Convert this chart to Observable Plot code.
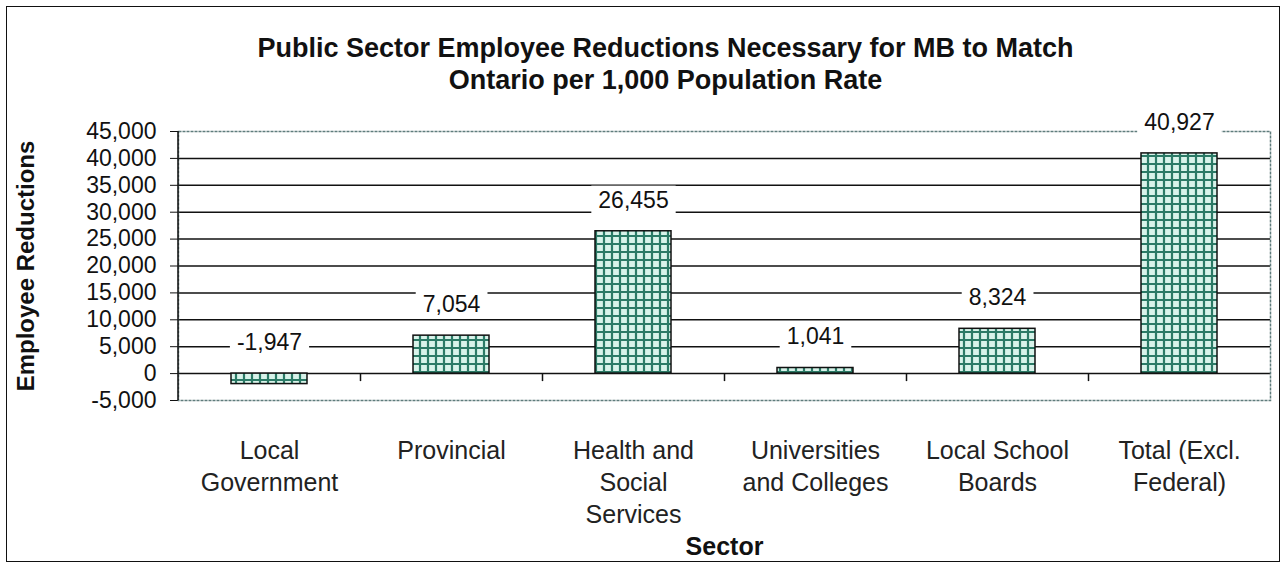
<!DOCTYPE html>
<html><head><meta charset="utf-8">
<script src="https://cdn.jsdelivr.net/npm/d3@7"></script>
<script src="https://cdn.jsdelivr.net/npm/@observablehq/plot@0.6"></script>
<style>
html,body{margin:0;padding:0;background:#fff;}
#wrap{position:relative;width:1284px;height:566px;overflow:hidden;}
#border{position:absolute;left:6px;top:6px;width:1274px;height:556px;border:1.5px solid #111;pointer-events:none;box-sizing:border-box;}
</style></head><body><div id="wrap"><div id="border"></div></div>
<script>
const titleLines = ["Public Sector Employee Reductions Necessary for MB to Match", "Ontario per 1,000 Population Rate"];
const sectors = ["Local Government", "Provincial", "Health and Social Services", "Universities and Colleges", "Local School Boards", "Total (Excl. Federal)"];
const sectorLabels = ["Local\nGovernment", "Provincial", "Health and\nSocial\nServices", "Universities\nand Colleges", "Local School\nBoards", "Total (Excl.\nFederal)"];
const reductions = [-1947, 7054, 26455, 1041, 8324, 40927];
const yTicks = [-5000, 0, 5000, 10000, 15000, 20000, 25000, 30000, 35000, 40000, 45000];
const gridLines = [0, 5000, 10000, 15000, 20000, 25000, 30000, 35000, 40000];
const yLabel = "Employee Reductions";
const xLabel = "Sector";

const data = sectors.map((s, i) => ({sector: s, label: sectorLabels[i], value: reductions[i]}));
const fmt = d3.formatLocale({decimal: ".", thousands: ",", grouping: [3], currency: ["$", ""], minus: "-"}).format(",");

const W = 1284, H = 566, ML = 178, MR = 14, MT = 131, MB = 166;
const step = (W - ML - MR) / sectors.length;

const svg = Plot.plot({
  width: W, height: H,
  marginLeft: ML, marginRight: MR, marginTop: MT, marginBottom: MB,
  style: {fontFamily: "'Liberation Sans', Arial, sans-serif", fontSize: "23px", color: "#111", background: "transparent", overflow: "visible"},
  x: {type: "band", domain: sectors, paddingInner: 0.58, paddingOuter: 0.29, axis: null},
  y: {domain: [-5000, 45000], ticks: yTicks, tickSize: 8, tickPadding: 14, tickFormat: fmt, label: null},
  marks: [
    Plot.ruleY(gridLines, {stroke: "#111", strokeWidth: 1.5}),
    Plot.frame({stroke: "#5f7c7c", strokeWidth: 1.5, strokeDasharray: "3,1"}),
    Plot.ruleX(sectors.slice(0, -1), {x: d => d, dx: step / 2, y1: 0, y2: 0, insetBottom: -8, stroke: "#111", strokeWidth: 1.5}),
    Plot.barY(data, {x: "sector", y: "value", fill: "url(#hatch)", stroke: "#111", strokeWidth: 1.5}),
    Plot.text(data, {x: "sector", y: d => Math.max(d.value, 0), text: d => fmt(d.value), dy: -31, fontSize: 23, fill: "#111"}),
    Plot.text(data, {x: "sector", text: "label", frameAnchor: "bottom", lineAnchor: "top", dy: 36, fontSize: 25, lineHeight: 1.28, fill: "#222"}),
    Plot.text([xLabel], {text: d => d, frameAnchor: "bottom", lineAnchor: "middle", dy: 146, fontSize: 25, fontWeight: "bold", fill: "#111"}),
    Plot.text([yLabel], {text: d => d, frameAnchor: "left", textAnchor: "middle", lineAnchor: "middle", rotate: -90, dx: -152, fontSize: 24, fontWeight: "bold", fill: "#111"}),
    Plot.text([titleLines.join("\n")], {text: d => d, frameAnchor: "top", lineAnchor: "middle", textAnchor: "middle", dx: -59, dy: -69, fontSize: 27, fontWeight: "bold", lineHeight: 1.19, fill: "#111"})
  ]
});

const root = d3.select(svg);
const defs = root.insert("defs", ":first-child");
const pat = defs.append("pattern").attr("id", "hatch").attr("patternUnits", "userSpaceOnUse").attr("width", 8).attr("height", 8);
pat.append("rect").attr("width", 8).attr("height", 8).attr("fill", "#d8f3ea");
pat.append("path").attr("d", "M0,4H8M4,0V8").attr("stroke", "#2b7a66").attr("stroke-width", 2.2);

const ys = svg.scale("y");
root.append("line")
  .attr("x1", ML).attr("x2", ML)
  .attr("y1", ys.apply(45000)).attr("y2", ys.apply(-5000))
  .attr("stroke", "#111").attr("stroke-width", 1.5);

document.getElementById("wrap").prepend(svg);

// white boxes behind the data labels (as in the reference)
const labelSet = new Set(reductions.map(fmt));
root.selectAll("text").filter(function() { return labelSet.has(this.textContent); }).each(function() {
  const bb = this.getBBox();
  const r = document.createElementNS("http://www.w3.org/2000/svg", "rect");
  r.setAttribute("x", bb.x - 7);
  r.setAttribute("y", bb.y - 1);
  r.setAttribute("width", bb.width + 14);
  r.setAttribute("height", bb.height + 2);
  r.setAttribute("fill", "white");
  const t = this.getAttribute("transform");
  if (t) r.setAttribute("transform", t);
  this.parentNode.insertBefore(r, this);
});
</script>
</body></html>
